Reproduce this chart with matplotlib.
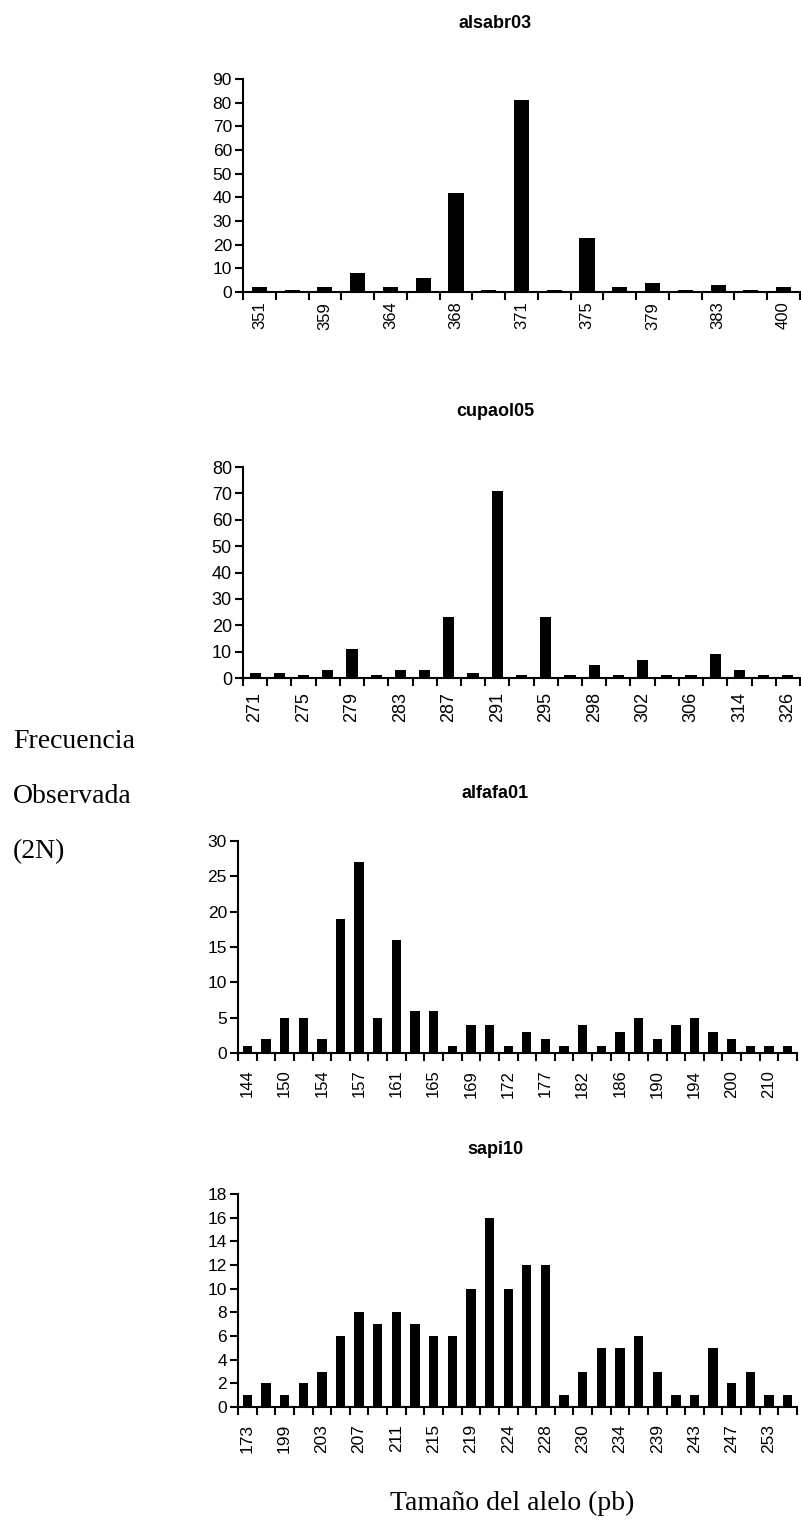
import numpy as np
import matplotlib.pyplot as plt

# alsabr03
labels1 = ["351", "", "359", "", "364", "", "368", "", "371", "", "375", "", "379", "", "383", "", "400"]
freq1 = [2, 1, 2, 8, 2, 6, 42, 1, 81, 1, 23, 2, 4, 1, 3, 1, 2]

# cupaol05
labels2 = ["271", "", "275", "", "279", "", "283", "", "287", "", "291", "", "295", "", "298", "",
           "302", "", "306", "", "314", "", "326"]
freq2 = [2, 2, 1, 3, 11, 1, 3, 3, 23, 2, 71, 1, 23, 1, 5, 1, 7, 1, 1, 9, 3, 1, 1]

# alfafa01
labels3 = ["144", "", "150", "", "154", "", "157", "", "161", "", "165", "", "169", "", "172", "",
           "177", "", "182", "", "186", "", "190", "", "194", "", "200", "", "210", ""]
freq3 = [1, 2, 5, 5, 2, 19, 27, 5, 16, 6, 6, 1, 4, 4, 1, 3, 2, 1, 4, 1, 3, 5, 2, 4, 5, 3, 2, 1, 1, 1]

# sapi10
labels4 = ["173", "", "199", "", "203", "", "207", "", "211", "", "215", "", "219", "", "224", "",
           "228", "", "230", "", "234", "", "239", "", "243", "", "247", "", "253", ""]
freq4 = [1, 2, 1, 2, 3, 6, 8, 7, 8, 7, 6, 6, 10, 16, 10, 12, 12, 1, 3, 5, 5, 6, 3, 1, 1, 5, 2, 3, 1, 1]

titles = ["alsabr03", "cupaol05", "alfafa01", "sapi10"]

W, H = 801, 1525
fig = plt.figure(figsize=(W/100, H/100), dpi=100)

# pixel boxes: left, right, top, bottom
boxes = [(243, 800, 79, 292), (243, 800, 467, 678), (238, 797, 841, 1053), (238, 797, 1194, 1407)]
title_y = [24, 412, 793, 1150]
ymax = [90, 80, 30, 18]
ystep = [10, 10, 5, 2]
bw = [0.46, 0.46, 0.5, 0.5]
ysize = [12.5, 13, 12.5, 12.5]
xsize = [12, 13, 12, 12.5]
xpad = [7, 10, 12, 12]

data = [(labels1, freq1), (labels2, freq2), (labels3, freq3), (labels4, freq4)]

for k in range(4):
    lab, fr = data[k]
    l, r, t, b = boxes[k]
    ax = fig.add_axes([l/W, 1-b/H, (r-l)/W, (b-t)/H])
    x = np.arange(len(fr))
    ax.bar(x, fr, width=bw[k], color="black")
    ax.set_xlim(-0.5, len(fr)-0.5)
    ax.set_ylim(0, ymax[k])
    ax.set_yticks(np.arange(0, ymax[k]+1, ystep[k]))
    # labels centred on bars, tick marks between categories
    ax.set_xticks(x)
    ax.set_xticklabels(lab, rotation=90, fontfamily="Liberation Sans", fontsize=xsize[k])
    ax.set_xticks(np.arange(-0.5, len(fr), 1.0), minor=True)
    ax.tick_params(axis="x", which="major", length=0, pad=xpad[k])
    ax.tick_params(axis="x", which="minor", length=6, width=1.5, direction="out")
    ax.tick_params(axis="y", length=6, width=1.5, direction="out", pad=2, labelsize=ysize[k])
    for tl in ax.get_yticklabels():
        tl.set_fontfamily("Liberation Sans")
    ax.spines["top"].set_visible(False)
    ax.spines["right"].set_visible(False)
    ax.spines["left"].set_linewidth(1.5)
    ax.spines["bottom"].set_linewidth(1.5)
    fig.text(495/W, 1-title_y[k]/H, titles[k], ha="center", va="center",
             fontfamily="Liberation Sans", fontweight="bold", fontsize=13)

fig.text(13/W, 1-741/H, "Frecuencia", ha="left", va="center", fontfamily="Liberation Serif", fontsize=20)
fig.text(13/W, 1-796/H, "Observada", ha="left", va="center", fontfamily="Liberation Serif", fontsize=20)
fig.text(13/W, 1-852/H, "(2N)", ha="left", va="center", fontfamily="Liberation Serif", fontsize=20)
fig.text(512/W, 1-1503/H, "Tamaño del alelo (pb)", ha="center", va="center",
         fontfamily="Liberation Serif", fontsize=20)

plt.savefig("out.png", dpi=100)
